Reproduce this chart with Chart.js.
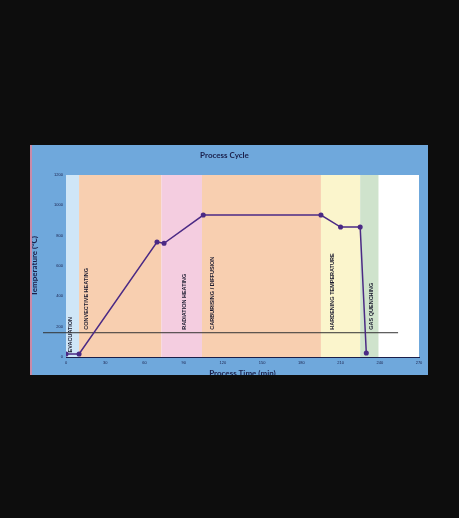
<!DOCTYPE html><html><head><meta charset="utf-8">
<script src="https://cdn.jsdelivr.net/npm/chart.js@4"></script>
<style>html,body{margin:0;background:#0d0d0d;width:459px;height:518px;overflow:hidden}
#wrap{position:absolute;left:30px;top:145px;width:398px;height:230px;background:#6fa8dc;overflow:hidden}
#wrap:before{content:'';position:absolute;left:0;top:0;width:2px;height:230px;background:#c98aa8}
</style></head><body><div id="wrap"><canvas id="c" width="398" height="230"></canvas></div>
<script>
const timeMin=[0,10,69.6,75,105,195,210,225,229.7];
const tempC=[20,20,758,750,936,936,857,857,26];
const bandStart=[0,10,73,104,195,225];
const bandEnd=[10,73,104,195,225,239];
const bandNames=['EVACUATION','CONVECTIVE HEATING','RADIATION HEATING','CARBURISING / DIFFUSION','HARDENING TEMPERATURE','GAS QUENCHING'];
const bandColors=['#cfe6f7','#f8cfb0','#f4cde0','#f8cfb0','#fbf5cc','#cfe3cc'];
const labelTime=[3.5,15.5,90.5,112,203.5,234];
const labelTemp=[30,180,180,180,180,180];
const refTemp=160, refEnd=254;
const xTicks=[0,30,60,90,120,150,180,210,240,270];
const yTicks=[0,200,400,600,800,1000,1200];
const bands={id:'bands',beforeDatasetsDraw(ch){const{ctx,chartArea:a,scales:{x,y}}=ch;ctx.save();
ctx.fillStyle='#fff';ctx.fillRect(a.left,a.top,a.right-a.left,a.bottom-a.top);
bandStart.forEach((s,i)=>{ctx.fillStyle=bandColors[i];const x0=x.getPixelForValue(s),x1=x.getPixelForValue(bandEnd[i]);ctx.fillRect(x0,a.top,x1-x0,a.bottom-a.top);});
ctx.fillStyle='#1a1a2e';ctx.font='bold 5.5px "Liberation Sans"';ctx.textBaseline='middle';
bandNames.forEach((n,i)=>{ctx.save();ctx.translate(x.getPixelForValue(labelTime[i]),y.getPixelForValue(labelTemp[i]));ctx.rotate(-Math.PI/2);ctx.textAlign='left';ctx.fillText(n,0,0);ctx.restore();});
ctx.strokeStyle='#333';ctx.lineWidth=1;const yy=y.getPixelForValue(refTemp);ctx.beginPath();ctx.moveTo(a.left-23,yy);ctx.lineTo(x.getPixelForValue(refEnd),yy);ctx.stroke();
ctx.fillStyle='#1a1f4a';ctx.font='bold 8px "Lato"';ctx.textAlign='center';ctx.textBaseline='top';ctx.fillText('Process Time (min)',(a.left+a.right)/2,a.bottom+12);
ctx.restore();}};
new Chart(document.getElementById('c'),{type:'line',data:{datasets:[{data:timeMin.map((t,i)=>({x:t,y:tempC[i]})),borderColor:'#4b2a85',backgroundColor:'#4b2a85',borderWidth:1.5,pointRadius:1.8,tension:0}]},
options:{responsive:false,animation:false,devicePixelRatio:1,layout:{padding:{right:9,left:0,top:0,bottom:0}},
plugins:{legend:{display:false},tooltip:{enabled:false},title:{display:true,text:'Process Cycle',color:'#1a1f4a',font:{size:8,weight:'bold',family:'Lato'},padding:{top:6,bottom:14.4}}},
scales:{x:{type:'linear',min:0,max:270,afterBuildTicks(s){s.ticks=xTicks.map(v=>({value:v}));},afterFit(s){s.height=18;},grid:{display:false,drawTicks:true,tickLength:2,tickColor:'#1a1f4a'},border:{color:'#1a1f4a'},ticks:{color:'#1a1f4a',font:{size:4},padding:1,maxRotation:0,callback:v=>String(v)}},
y:{min:0,max:1200,afterBuildTicks(s){s.ticks=yTicks.map(v=>({value:v}));},afterFit(s){s.width=36;},grid:{display:false,tickLength:2,tickColor:'#1a1f4a'},border:{color:'#1a1f4a'},ticks:{color:'#1a1f4a',font:{size:4},padding:1,callback:v=>String(v)},title:{display:true,text:'Temperature (°C)',color:'#1a1f4a',font:{size:8,weight:'bold',family:'Lato'},padding:0}}}},
plugins:[bands]});
</script></body></html>
